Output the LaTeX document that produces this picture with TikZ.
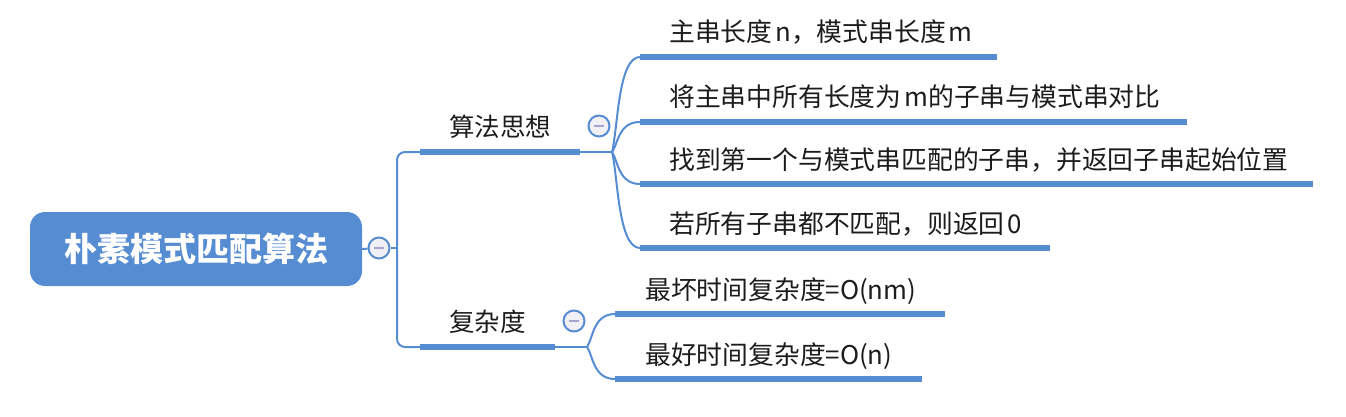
\documentclass[tikz,border=0pt]{standalone}
\usepackage{fontspec}
\setmainfont{Noto Sans CJK SC}
\usetikzlibrary{calc}
\definecolor{mmblue}{HTML}{568CD2}
\definecolor{minusc}{HTML}{A4A6CF}
\definecolor{circfill}{HTML}{F1F1F5}
\definecolor{txt}{HTML}{1C1C1C}
\newcommand\childcurve[2]{\draw[thinln] let \p1=(#1), \p2=(#2) in (\p1) .. controls (\x1+6pt,{\y1+0.25*(\y2-\y1)}) and (\x1+6pt,\y2) .. (\p2);}
\newcommand\minussign[1]{\draw[minusc, line width=2pt] ([xshift=-5pt]#1.center) -- ([xshift=5pt]#1.center);}
\newcommand\lk{\kern3pt}
\begin{document}
\begin{tikzpicture}[x=1pt,y={(0pt,-1pt)},
  barln/.style={line width=6pt, mmblue},
  thinln/.style={line width=2pt, mmblue},
  ctext/.style={font=\fontsize{25.8}{30}\selectfont, anchor=base west, inner sep=0pt, text=txt},
  btext/.style={font=\fontsize{25.5}{30}\selectfont, anchor=base west, inner sep=0pt, text=txt},
  collapse/.style={circle, draw=mmblue, line width=2pt, fill=circfill, minimum size=21pt, inner sep=0pt},
  rootbox/.style={rectangle, rounded corners=15pt, fill=mmblue, minimum width=332pt, minimum height=74pt, text=white, inner sep=0pt, font=\fontsize{33}{38}\selectfont\bfseries}
]
\useasboundingbox (0,0) rectangle (1346,417);

% root
\node[rootbox] (root) at (196,249) {朴素模式匹配算法};
\node[collapse] (c0) at (379,248) {};
\minussign{c0}
\coordinate (tj) at (397,248);

% branch coordinates
\coordinate (b1s) at (420,152);
\coordinate (b1e) at (580,152);
\coordinate (b1p) at (612,152);
\coordinate (b2s) at (420,347);
\coordinate (b2e) at (555,347);
\coordinate (b2p) at (587,347);

% trunk
\draw[thinln] (root.east) -- (c0);
\draw[thinln] (c0) -- (tj);
\draw[thinln, rounded corners=8pt] (tj) |- (b1s);
\draw[thinln, rounded corners=8pt] (tj) |- (b2s);

% branch 1
\draw[barln] (b1s) -- (b1e);
\draw[thinln] (b1e) -- (b1p);
\node[btext] (t1) at (449,136.5) {算法思想};
\node[collapse] (c1) at (599,126) {};
\minussign{c1}

% branch 2
\draw[barln] (b2s) -- (b2e);
\draw[thinln] (b2e) -- (b2p);
\node[btext] (t2) at (449,331.5) {复杂度};
\node[collapse] (c2) at (574,321) {};
\minussign{c2}

% children of branch 1
\coordinate (k1s) at (640,57);   \coordinate (k1e) at (997,57);
\coordinate (k2s) at (640,122);  \coordinate (k2e) at (1187,122);
\coordinate (k3s) at (640,184);  \coordinate (k3e) at (1313,184);
\coordinate (k4s) at (640,248);  \coordinate (k4e) at (1050,248);
% children of branch 2
\coordinate (k5s) at (615,314);  \coordinate (k5e) at (945,314);
\coordinate (k6s) at (615,379);  \coordinate (k6e) at (922,379);

\childcurve{b1p}{k1s}
\childcurve{b1p}{k2s}
\childcurve{b1p}{k3s}
\childcurve{b1p}{k4s}
\childcurve{b2p}{k5s}
\childcurve{b2p}{k6s}

\draw[barln] (k1s) -- (k1e);
\draw[barln] (k2s) -- (k2e);
\draw[barln] (k3s) -- (k3e);
\draw[barln] (k4s) -- (k4e);
\draw[barln] (k5s) -- (k5e);
\draw[barln] (k6s) -- (k6e);

\node[ctext] (n1) at (669,42) {主串长度\lk n，模式串长度\lk m};
\node[ctext] (n2) at (669,107) {将主串中所有长度为\lk m的子串与模式串对比};
\node[ctext] (n3) at (669,169) {找到第一个与模式串匹配的子串，并返回子串起始位置};
\node[ctext] (n4) at (669,233) {若所有子串都不匹配，则返回\lk 0};
\node[ctext] (n5) at (645,299) {最坏时间复杂度=O(nm)};
\node[ctext] (n6) at (645,364) {最好时间复杂度=O(n)};
\end{tikzpicture}
\end{document}
